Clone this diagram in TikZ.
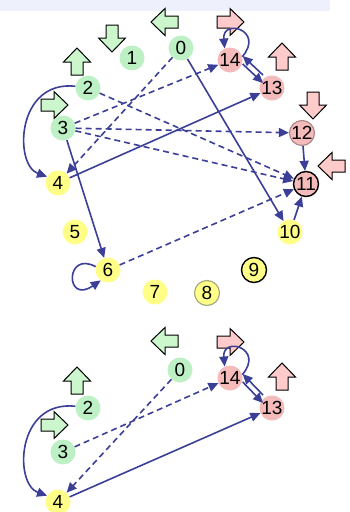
\documentclass[tikz,border=0pt]{standalone}
\usepackage{fontspec}
\setmainfont{Liberation Sans}
\usetikzlibrary{arrows.meta}
\definecolor{edgeblue}{HTML}{3B3F97}
\definecolor{ngreen}{HTML}{BDF0C4}
\definecolor{nyellow}{HTML}{FFFF88}
\definecolor{npink}{HTML}{F5BABA}
\definecolor{agreen}{HTML}{CCF7CC}
\definecolor{apink}{HTML}{FFCACA}
\definecolor{band}{HTML}{EEF0FB}
\tikzset{
  vtx/.style={circle, minimum size=25pt, inner sep=0pt, font=\fontsize{19}{19}\selectfont},
  gv/.style={vtx, fill=ngreen},
  yv/.style={vtx, fill=nyellow},
  pv/.style={vtx, fill=npink},
  ed/.style={draw=edgeblue, line width=1.6pt, -{Triangle[length=10pt,width=9pt]}},
  dd/.style={ed, dash pattern=on 6pt off 4pt},
  blk/.pic={\draw[line width=1pt, fill=#1] (0,-14) -- (13.5,0) -- (6,0) -- (6,13) -- (-6,13) -- (-6,0) -- (-13.5,0) -- cycle;},
}
\begin{document}
\begin{tikzpicture}[x=1pt,y=-1pt]
\useasboundingbox (0,0) rectangle (350,512);
\clip (0,0) rectangle (350,512);
\fill[white] (0,0) rectangle (350,512);
\fill[band] (0,0) rectangle (330,11);

% ---------- top graph ----------
\node[gv] (a0) at (181,48) {0};
\node[gv] (a1) at (132,58) {1};
\node[gv] (a2) at (88,88) {2};
\node[gv] (a3) at (63,128) {3};
\node[yv] (a4) at (58,183) {4};
\node[yv] (a5) at (75,232) {5};
\node[yv] (a6) at (108,270) {6};
\node[yv] (a7) at (155,292) {7};
\node[yv, draw={rgb,255:red,170;green,170;blue,130}, line width=1.2pt] (a8) at (207,293) {8};
\node[yv, draw=black, line width=1.4pt] (a9) at (254,270) {9};
\node[yv] (a10) at (290,232) {10};
\node[pv, draw=black, line width=1.4pt] (a11) at (306,184) {11};
\node[pv, draw={rgb,255:red,170;green,140;blue,140}, line width=1.2pt] (a12) at (302,133) {12};
\node[pv] (a13) at (272,88) {13};
\node[pv] (a14) at (230,60) {14};

\pic[rotate=180] at (112,38) {blk=agreen};
\pic[rotate=90] at (165,22) {blk=agreen};
\pic[rotate=-90] at (230,22) {blk=apink};
\pic at (282,57) {blk=apink};
\pic[rotate=180] at (313,105) {blk=apink};
\pic[rotate=90] at (332,166) {blk=apink};
\pic at (77,62) {blk=agreen};
\pic[rotate=-90] at (54,105) {blk=agreen};

\draw[ed] (a2.172) .. controls (16,80) and (14,165) .. (a4.150);
\draw[ed] (a14.15) .. controls (265,30) and (222,18) .. (a14.115);
\draw[ed] (a6.165) .. controls (65,250) and (65,305) .. (a6.235);
\draw[ed] ([yshift=-4pt]a14.east) -- ([yshift=-4pt]a13.north west);
\draw[ed] ([yshift=4pt]a13.north west) -- ([yshift=4pt]a14.east);
\draw[ed] (a4) -- (a13);
\draw[ed] (a0) -- (a10);
\draw[ed] (a3) -- (a6);
\draw[ed] (a12) -- (a11);
\draw[ed] (a10) -- (a11);
\draw[dd] (a0) -- (a4);
\draw[dd] (a3) -- (a14);
\draw[dd] (a3) -- (a12);
\draw[dd] (a3) -- (a11);
\draw[dd] (a2) -- (a11);
\draw[dd] (a6) -- (a11);

% ---------- bottom graph ----------
\node[gv] (b0) at (180,370) {0};
\node[gv] (b2) at (88,408) {2};
\node[gv] (b3) at (63,452) {3};
\node[yv] (b4) at (58,502) {4};
\node[pv] (b13) at (272,408) {13};
\node[pv] (b14) at (230,378) {14};

\pic[rotate=90] at (165,341) {blk=agreen};
\pic[rotate=-90] at (230,342) {blk=apink};
\pic at (282,377) {blk=apink};
\pic at (77,381) {blk=agreen};
\pic[rotate=-90] at (54,425) {blk=agreen};

\draw[ed] (b2.172) .. controls (16,400) and (14,484) .. (b4.150);
\draw[ed] (b14.15) .. controls (265,348) and (222,336) .. (b14.115);
\draw[ed] ([yshift=-4pt]b14.east) -- ([yshift=-4pt]b13.north west);
\draw[ed] ([yshift=4pt]b13.north west) -- ([yshift=4pt]b14.east);
\draw[ed] (b4) -- (b13);
\draw[dd] (b0) -- (b4);
\draw[dd] (b3) -- (b14);
\end{tikzpicture}
\end{document}
